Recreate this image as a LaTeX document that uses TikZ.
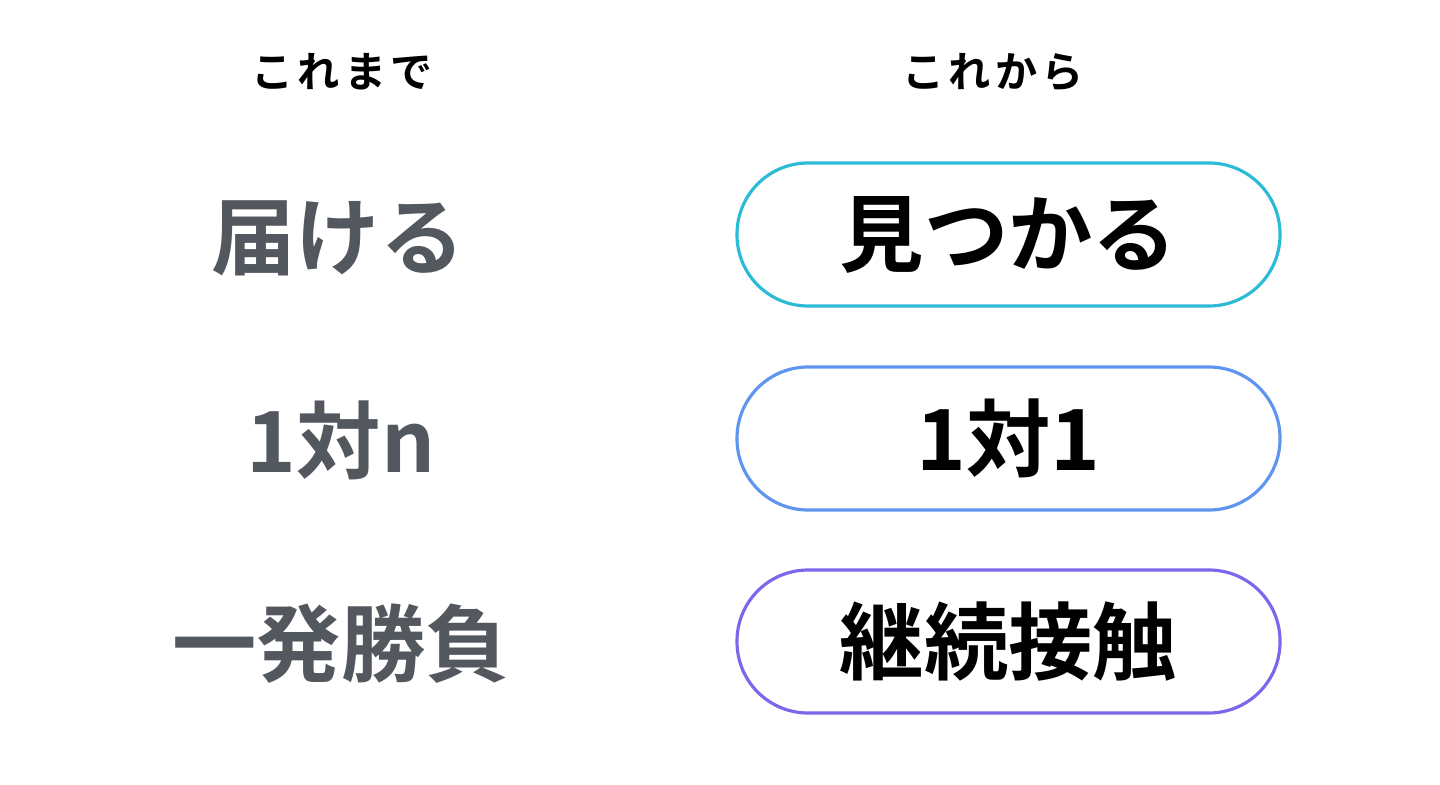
\documentclass[tikz,border=0pt]{standalone}
\usepackage{fontspec}
\newfontfamily\jpfont{Noto Sans CJK JP}[BoldFont={* Bold}]
\usetikzlibrary{positioning}

\definecolor{oldgray}{HTML}{53575E}
\definecolor{pillcyan}{HTML}{2BBBD6}
\definecolor{pillblue}{HTML}{5F95EF}
\definecolor{pillpurple}{HTML}{7A67EC}

\newcommand{\gap}{\kern1.2pt}

\tikzset{
  heading/.style={font=\jpfont\bfseries\fontsize{12}{14}\selectfont, text=black},
  oldword/.style={font=\jpfont\bfseries\fontsize{24}{28}\selectfont, text=oldgray},
  newword/.style={font=\jpfont\bfseries\fontsize{24}{28}\selectfont, text=black,
    draw, line width=0.9pt, rounded corners=7.1mm,
    minimum width=54.3mm, minimum height=14.3mm, inner sep=0pt},
}

\begin{document}
\begin{tikzpicture}[x=0.1mm, y=-0.1mm]
            \useasboundingbox (0,0) rectangle (1440,785);

            % headings
            \node [heading] (before) at (342,72) {こ\gap れ\gap ま\gap で};
            \node [heading] (after) at (993,72) {こ\gap れ\gap か\gap ら};

            % left column
            \node [oldword] (deliver) at (338,238) {届ける};
            \node [oldword] (onetomany) at (341,440) {1対n};
            \node [oldword] (oneshot) at (341,644) {一発勝負};

            % right column
            \node [newword, draw=pillcyan] (found) at (1008.5,234.5) {見つかる};
            \node [newword, draw=pillblue] (onetoone) at (1008.5,438.5) {1対1};
            \node [newword, draw=pillpurple] (ongoing) at (1008.5,641.5) {継続接触};
          \end{tikzpicture}
\end{document}
